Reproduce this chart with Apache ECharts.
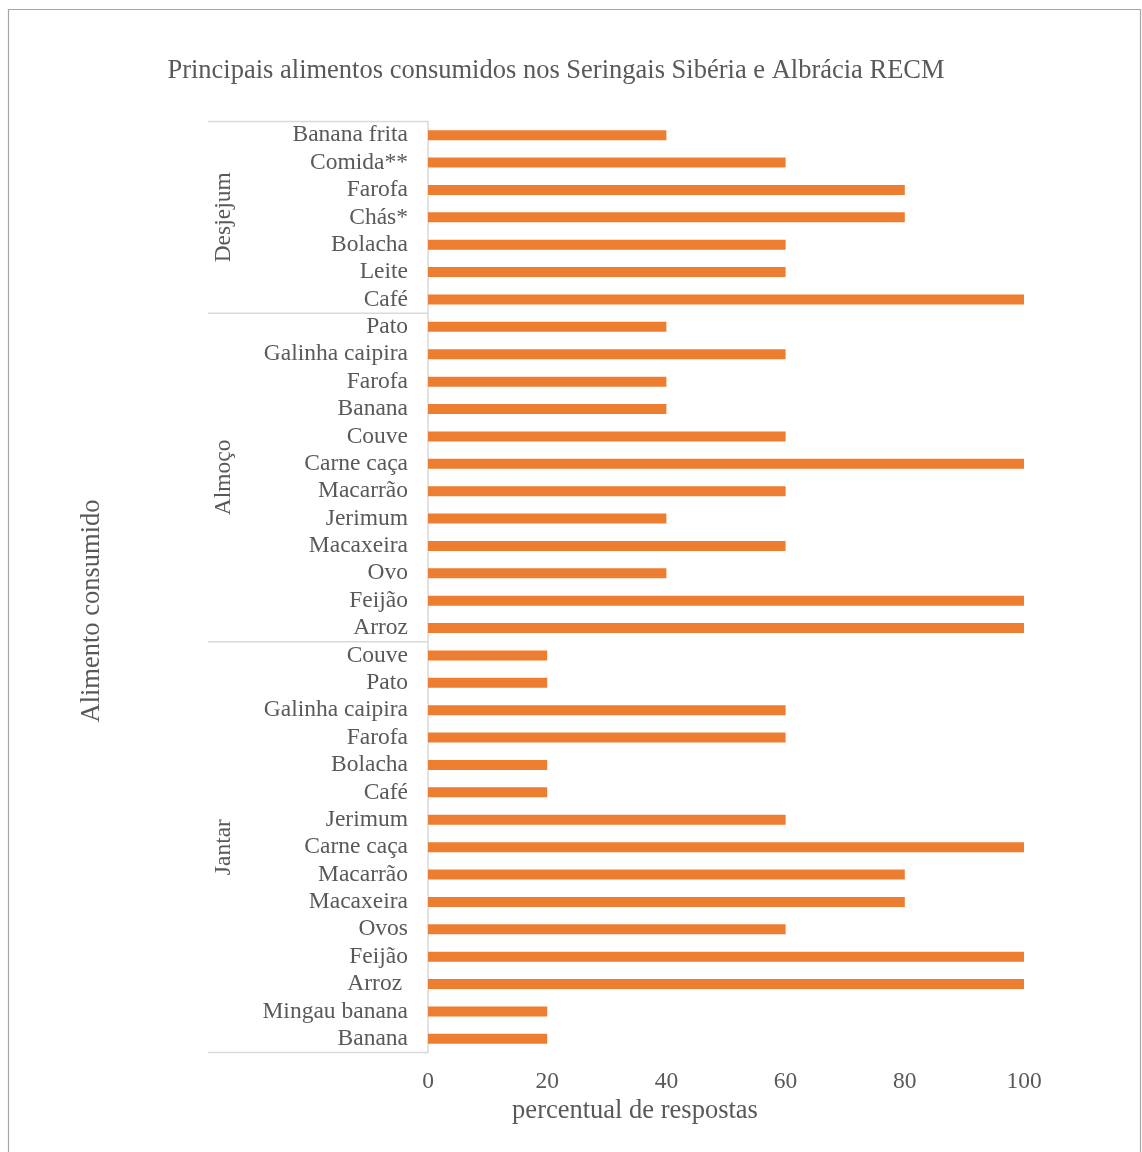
<!DOCTYPE html>
<html>
<head>
<meta charset="utf-8">
<script src="https://cdn.jsdelivr.net/npm/echarts@6/dist/echarts.min.js"></script>
<style>
  html, body { margin: 0; padding: 0; background: #fff; }
  #chart { width: 1142px; height: 1152px; }
</style>
</head>
<body>
<div id="chart"></div>
<script>
var groups = ['Desjejum', 'Almoço', 'Jantar'];

var desjejumFoods = ['Banana frita', 'Comida**', 'Farofa', 'Chás*', 'Bolacha', 'Leite', 'Café'];
var desjejumValues = [40, 60, 80, 80, 60, 60, 100];

var almocoFoods = ['Pato', 'Galinha caipira', 'Farofa', 'Banana', 'Couve', 'Carne caça',
    'Macarrão', 'Jerimum', 'Macaxeira', 'Ovo', 'Feijão', 'Arroz'];
var almocoValues = [40, 60, 40, 40, 60, 100, 60, 40, 60, 40, 100, 100];

var jantarFoods = ['Couve', 'Pato', 'Galinha caipira', 'Farofa', 'Bolacha', 'Café', 'Jerimum',
    'Carne caça', 'Macarrão', 'Macaxeira', 'Ovos', 'Feijão', 'Arroz ', 'Mingau banana', 'Banana'];
var jantarValues = [20, 20, 60, 60, 20, 20, 60, 100, 80, 80, 60, 100, 100, 20, 20];

var xTicks = [0, 20, 40, 60, 80, 100];

var groupFoods = [desjejumFoods, almocoFoods, jantarFoods];
var groupValues = [desjejumValues, almocoValues, jantarValues];

// unique keys so repeated foods stay separate categories
var categories = [];
var values = [];
groupFoods.forEach(function (foods, g) {
    foods.forEach(function (f, i) {
        categories.push(groups[g] + '|' + f);
        values.push(groupValues[g][i]);
    });
});

var font = '"Liberation Serif", "Times New Roman", serif';
var textColor = '#595959';

var chart = echarts.init(document.getElementById('chart'));
var option = {
    backgroundColor: '#fff',
    animation: false,
    title: {
        text: 'Principais alimentos consumidos nos Seringais Sibéria e Albrácia RECM',
        left: 551,
        top: 53,
        textAlign: 'center',
        textStyle: { fontFamily: font, fontSize: 26.5, fontWeight: 'normal', color: textColor }
    },
    grid: { left: 428, right: 118, top: 121.5, bottom: 99.5 },
    xAxis: {
        type: 'value',
        min: xTicks[0],
        max: xTicks[xTicks.length - 1],
        interval: 20,
        axisLine: { show: false },
        axisTick: { show: false },
        splitLine: { show: false },
        axisLabel: { fontFamily: font, fontSize: 23.5, color: textColor, margin: 17 }
    },
    yAxis: {
        type: 'category',
        inverse: true,
        data: categories,
        axisLine: { show: true, lineStyle: { color: '#d9d9d9', width: 1.5 } },
        axisTick: { show: false },
        axisLabel: {
            fontFamily: font, fontSize: 23.5, color: textColor, margin: 20, interval: 0,
            formatter: function (v) { return v.split('|')[1]; }
        }
    },
    series: [{
        type: 'bar',
        data: values,
        barWidth: 10,
        itemStyle: { color: '#ED7D31' }
    }]
};
chart.setOption(option);

// group separators and group labels, placed through the axis scale
var yAxis = chart.getModel().getComponent('yAxis').axis;
var band = yAxis.getBandWidth();
var x0 = chart.convertToPixel({ xAxisIndex: 0 }, 0);
var graphics = [{
    type: 'rect',
    shape: { x: 8.5, y: 9.5, width: 1132, height: 1150 },
    style: { fill: null, stroke: '#a6a6a6', lineWidth: 1.2 },
    silent: true
}, {
    type: 'text',
    x: 635, y: 1111,
    style: { text: 'percentual de respostas', font: '26.5px ' + font, fill: textColor,
        align: 'center', verticalAlign: 'middle' }
}, {
    type: 'text',
    x: 92, y: 611,
    rotation: Math.PI / 2,
    style: { text: 'Alimento consumido', font: '26.5px ' + font, fill: textColor,
        align: 'center', verticalAlign: 'middle' }
}];
var start = 0;
groupFoods.forEach(function (foods, g) {
    var yTop = chart.convertToPixel({ yAxisIndex: 0 }, categories[start]) - band / 2;
    var yBot = chart.convertToPixel({ yAxisIndex: 0 }, categories[start + foods.length - 1]) + band / 2;
    if (g === 0) {
        graphics.push({ type: 'line', shape: { x1: 208, y1: yTop, x2: x0, y2: yTop },
            style: { stroke: '#d9d9d9', lineWidth: 1.5 } });
    }
    graphics.push({ type: 'line', shape: { x1: 208, y1: yBot, x2: x0, y2: yBot },
        style: { stroke: '#d9d9d9', lineWidth: 1.5 } });
    graphics.push({
        type: 'text',
        x: 224, y: (yTop + yBot) / 2,
        rotation: Math.PI / 2,
        style: { text: groups[g], font: '23.5px ' + font, fill: textColor,
            align: 'center', verticalAlign: 'middle' }
    });
    start += foods.length;
});
chart.setOption({ graphic: graphics });
</script>
</body>
</html>
